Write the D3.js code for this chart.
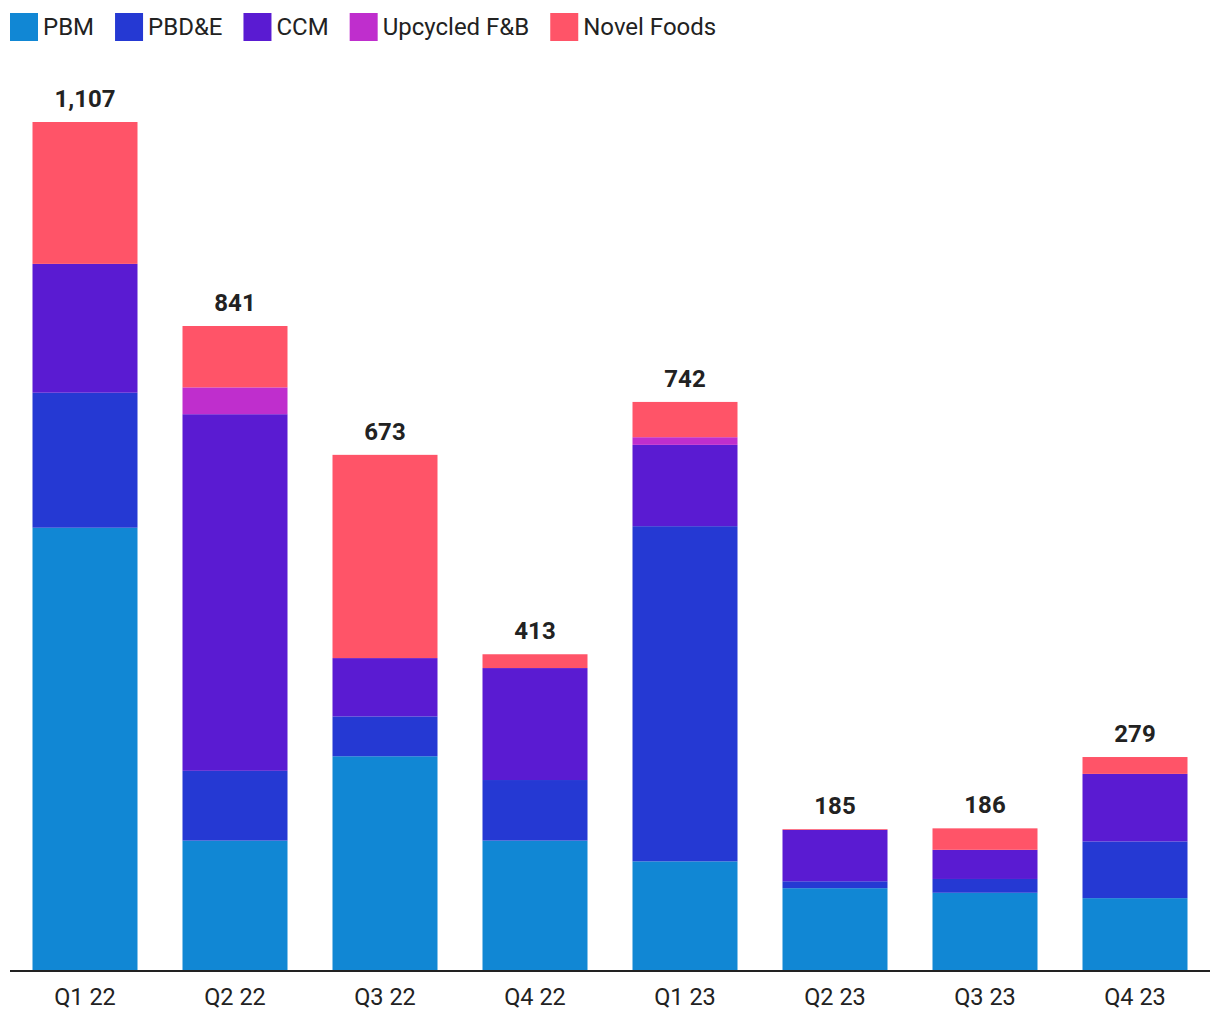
<!DOCTYPE html>
<html>
<head>
<meta charset="utf-8">
<script src="https://cdn.jsdelivr.net/npm/d3@7"></script>
<style>
  html, body { margin: 0; padding: 0; background: #fff; }
  svg { display: block; font-family: Roboto, "Noto Sans", sans-serif; }
</style>
</head>
<body>
<svg id="chart" width="1220" height="1020"></svg>
<script>
const categories = ["Q1 22", "Q2 22", "Q3 22", "Q4 22", "Q1 23", "Q2 23", "Q3 23", "Q4 23"];
const seriesNames = ["PBM", "PBD&E", "CCM", "Upcycled F&B", "Novel Foods"];
const seriesColors = ["#1187d4", "#2539d3", "#5a1bd2", "#bf2ecd", "#ff5468"];
const pbm       = [578, 170, 280, 170, 143, 108, 102, 95];
const pbde      = [176, 91, 52, 79, 437, 9, 18, 74];
const ccm       = [168, 465, 76, 146, 106, 67, 38, 88];
const upcycled  = [0, 35, 0, 0, 10, 0, 0, 0];
const novel     = [185, 80, 265, 18, 46, 1, 28, 22];

const seriesValues = [pbm, pbde, ccm, upcycled, novel];
const rows = categories.map((c, i) => {
  const r = { cat: c };
  seriesNames.forEach((s, j) => r[s] = seriesValues[j][i]);
  r.total = d3.sum(seriesValues, v => v[i]);
  return r;
});

const svg = d3.select("#chart");
const x = d3.scaleBand().domain(categories).range([10, 1210]).paddingInner(0.3).paddingOuter(0.15);
const y = d3.scaleLinear().domain([0, 1107]).range([971, 122]);

const stack = d3.stack().keys(seriesNames);
const stacked = stack(rows);

svg.append("g").selectAll("g").data(stacked).join("g")
  .attr("fill", (d, i) => seriesColors[i])
  .selectAll("rect").data(d => d).join("rect")
  .attr("x", d => x(d.data.cat))
  .attr("width", x.bandwidth())
  .attr("y", d => y(d[1]))
  .attr("height", d => Math.max(0, y(d[0]) - y(d[1])));

// totals
svg.append("g").selectAll("text").data(rows).join("text")
  .attr("x", d => x(d.cat) + x.bandwidth() / 2)
  .attr("y", d => y(d.total) - 15)
  .attr("text-anchor", "middle")
  .attr("font-size", 24)
  .attr("font-weight", "bold")
  .attr("fill", "#222")
  .text(d => d3.format(",")(d.total));

// x axis
const xAxis = svg.append("g").attr("transform", "translate(0,971)")
  .call(d3.axisBottom(x).tickSize(0).tickPadding(17));
xAxis.select(".domain").attr("stroke", "#222").attr("stroke-width", 2).attr("d", "M10,0H1210");
xAxis.selectAll("text").attr("font-size", 23.5).attr("fill", "#222").attr("font-family", "Roboto, sans-serif");

// legend
const legend = svg.append("g");
let lx = 10;
seriesNames.forEach((s, i) => {
  legend.append("rect").attr("x", lx).attr("y", 13).attr("width", 28).attr("height", 28).attr("fill", seriesColors[i]);
  const t = legend.append("text").attr("x", lx + 33).attr("y", 35)
    .attr("font-size", 24).attr("fill", "#222").text(s);
  const w = t.node().getComputedTextLength();
  lx += 33 + w + 21;
});
</script>
</body>
</html>
